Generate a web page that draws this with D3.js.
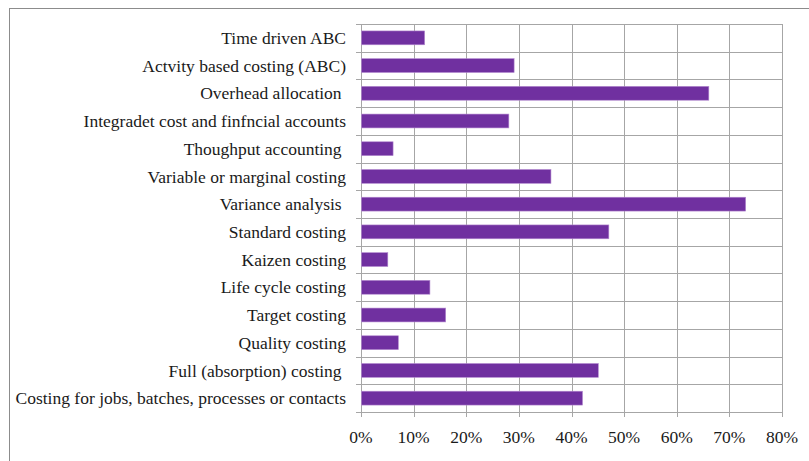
<!DOCTYPE html>
<html>
<head>
<meta charset="utf-8">
<script src="https://cdn.jsdelivr.net/npm/d3@7"></script>
<style>
  body { margin: 0; background: #fff; }
</style>
</head>
<body>
<svg id="chart" width="809" height="461"></svg>
<script>
// categories top to bottom (trailing spaces kept as in the source chart)
const categories = [
  "Time driven ABC",
  "Actvity based costing (ABC)",
  "Overhead allocation ",
  "Integradet cost and finfncial accounts",
  "Thoughput accounting ",
  "Variable or marginal costing",
  "Variance analysis ",
  "Standard costing",
  "Kaizen costing",
  "Life cycle costing",
  "Target costing",
  "Quality costing",
  "Full (absorption) costing ",
  "Costing for jobs, batches, processes or contacts"
];
const values = [0.12, 0.29, 0.66, 0.28, 0.06, 0.36, 0.73, 0.47, 0.05, 0.13, 0.16, 0.07, 0.45, 0.42];
const ticks = [0, 0.1, 0.2, 0.3, 0.4, 0.5, 0.6, 0.7, 0.8];

const width = 809, height = 461;
const margin = {top: 24, right: 27, bottom: 49, left: 361};
const bar_color = "#7030a0";
const grid_color = "#a6a6a6";
const font = "Liberation Serif";
const font_size = 17.5;

const svg = d3.select("#chart");

// outer frame
svg.append("rect")
  .attr("x", 9.5).attr("y", 8.5)
  .attr("width", width + 10).attr("height", height + 10)
  .attr("fill", "none").attr("stroke", "#8c8c8c");

const x = d3.scaleLinear().domain([0, 0.8]).range([margin.left, width - margin.right]);
const y = d3.scaleBand().domain(categories).range([margin.top, height - margin.bottom]).paddingInner(0.5).paddingOuter(0.25);

const plotTop = margin.top, plotBottom = height - margin.bottom;
const bounds = d3.range(categories.length + 1).map(i => plotTop + i * (plotBottom - plotTop) / categories.length);

// vertical grid
svg.append("g").selectAll("line")
  .data(ticks).join("line")
  .attr("x1", d => Math.round(x(d)) + 0.5).attr("x2", d => Math.round(x(d)) + 0.5)
  .attr("y1", plotTop).attr("y2", plotBottom + 5)
  .attr("stroke", grid_color);

// horizontal grid at band boundaries, with small ticks to the left
svg.append("g").selectAll("line")
  .data(bounds).join("line")
  .attr("x1", x(0) - 5).attr("x2", x(0.8))
  .attr("y1", d => Math.round(d) + 0.5).attr("y2", d => Math.round(d) + 0.5)
  .attr("stroke", grid_color);

// bars
svg.append("g").selectAll("rect")
  .data(values).join("rect")
  .attr("x", x(0) + 0.5)
  .attr("y", (d, i) => y(categories[i]))
  .attr("width", d => x(d) - x(0))
  .attr("height", y.bandwidth())
  .attr("fill", bar_color)
  .attr("stroke", "#b48ad0").attr("stroke-width", 0.6);

// category labels
svg.append("g").selectAll("text")
  .data(categories).join("text")
  .attr("x", x(0) - 15)
  .attr("y", d => y(d) + y.bandwidth() / 2)
  .attr("dy", "0.35em")
  .attr("text-anchor", "end")
  .attr("font-family", font)
  .attr("font-size", font_size)
  .attr("fill", "#1a1a1a")
  .attr("xml:space", "preserve")
  .text(d => d);

// x axis labels
const fmt = d3.format(".0%");
svg.append("g").selectAll("text")
  .data(ticks).join("text")
  .attr("x", d => x(d))
  .attr("y", plotBottom + 25)
  .attr("dy", "0.35em")
  .attr("text-anchor", "middle")
  .attr("font-family", font)
  .attr("font-size", font_size)
  .attr("fill", "#1a1a1a")
  .text(d => fmt(d));
</script>
</body>
</html>
